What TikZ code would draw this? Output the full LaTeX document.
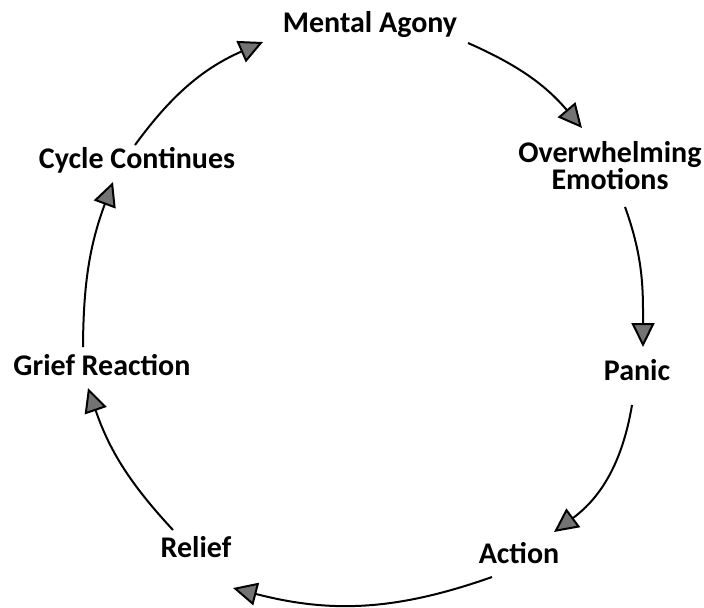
\documentclass[tikz,border=0pt]{standalone}
\usepackage{fontspec}
\setmainfont{Carlito}
\usetikzlibrary{arrows.meta}
\begin{document}
\begin{tikzpicture}[x=0.5pt,y=0.5pt,
  lbl/.style={font=\fontsize{15pt}{13.5pt}\selectfont\bfseries, inner sep=0pt, text=black},
  cyc/.style={draw=black, line width=1pt,
    -{Triangle[length=12pt,width=11.5pt,fill=black!55]}}]
\useasboundingbox (0,0) rectangle (704,607);
% labels
\node[lbl, anchor=base] (ma) at (370,575) {Mental Agony};
\node[lbl, align=center] (oe) at (610,441) {Overwhelming\\Emotions};
\node[lbl, anchor=base] (pa) at (637,227) {Panic};
\node[lbl, anchor=base] (ac) at (519,44) {Action};
\node[lbl, anchor=base] (re) at (196,50) {Relief};
\node[lbl, anchor=base] (gr) at (102,232) {Grief Reaction};
\node[lbl, anchor=base] (cc) at (137,439) {Cycle Continues};
% arc end points
\coordinate (a1s) at (135,462); \coordinate (a1e) at (263,565);
\coordinate (a2s) at (468,564); \coordinate (a2e) at (582,479);
\coordinate (a3s) at (625,400); \coordinate (a3e) at (643,260);
\coordinate (a4s) at (632,202); \coordinate (a4e) at (554,75);
\coordinate (a5s) at (492,30);  \coordinate (a5e) at (233,19);
\coordinate (a6s) at (173,77);  \coordinate (a6e) at (88,219);
\coordinate (a7s) at (83,260);  \coordinate (a7e) at (113,425);
% arcs
\draw[cyc] (a1s) to[bend left=15] (a1e);
\draw[cyc] (a2s) to[bend left=13] (a2e);
\draw[cyc] (a3s) to[out=-70,in=90] (a3e);
\draw[cyc] (a4s) to[bend left=22] (a4e);
\draw[cyc] (a5s) to[bend left=17] (a5e);
\draw[cyc] (a6s) to[bend left=12] (a6e);
\draw[cyc] (a7s) to[bend left=10] (a7e);
\end{tikzpicture}
\end{document}
